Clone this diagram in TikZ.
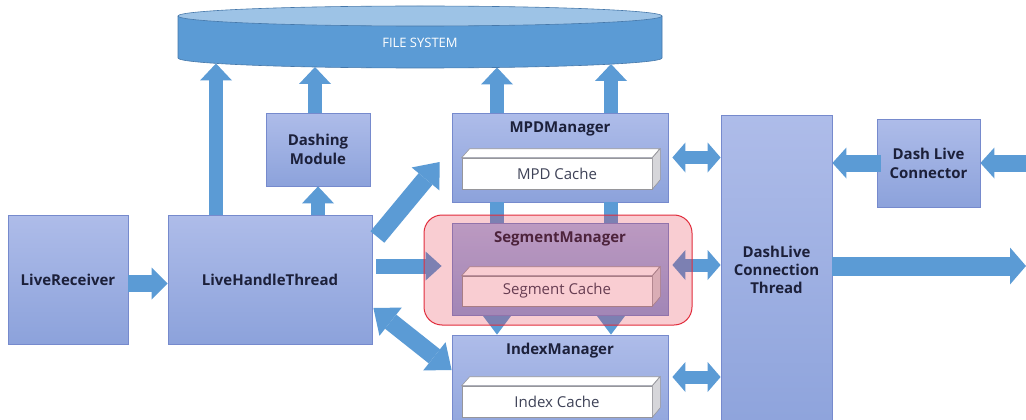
\documentclass[tikz,border=0pt]{standalone}
\usepackage{fontspec}
\setmainfont{Open Sans}
\usetikzlibrary{arrows.meta,calc}
\definecolor{boxtop}{RGB}{174,188,233}
\definecolor{boxbot}{RGB}{140,162,219}
\definecolor{boxline}{RGB}{118,138,205}
\definecolor{arr}{RGB}{91,155,213}
\definecolor{fsbody}{RGB}{91,155,213}
\definecolor{fstop}{RGB}{157,195,230}
\definecolor{fsline}{RGB}{70,120,170}
\definecolor{txt}{RGB}{28,32,58}
\definecolor{hlred}{RGB}{233,46,67}
\definecolor{hlline}{RGB}{225,45,60}
\definecolor{cacheline}{RGB}{150,150,155}
\definecolor{cacheside}{RGB}{214,214,218}
\tikzset{
  box/.style={draw=boxline, line width=0.8pt, top color=boxtop, bottom color=boxbot,
    inner sep=0pt, text=txt, font=\fontsize{15}{19}\selectfont\bfseries, align=center},
  titletext/.style={text=txt, font=\fontsize{15}{17}\selectfont\bfseries, inner sep=0pt},
  boxtext/.style={text=txt, font=\fontsize{15}{18}\selectfont\bfseries, inner sep=0pt, align=center},
  cache/.style={draw=cacheline, fill=white, line width=0.6pt, minimum width=190pt,
    minimum height=31pt, inner sep=0pt, text=txt!85, font=\fontsize{15}{17}\selectfont},
  ctop/.style={fill=white, draw=cacheline, line width=0.6pt},
  cside/.style={fill=cacheside, draw=cacheline, line width=0.6pt},
  uparr/.style={draw=arr, line width=14pt, -{Triangle[width=32pt,length=17pt,line width=0pt]}},
  downarr/.style={draw=arr, line width=14pt, -{Triangle[width=30pt,length=20pt,line width=0pt]}},
  harr/.style={draw=arr, line width=17pt, -{Triangle[width=32pt,length=16pt,line width=0pt]}},
  diagarr/.style={draw=arr, line width=18pt, -{Triangle[width=36pt,length=22pt,line width=0pt]}},
  diagdbl/.style={draw=arr, line width=18pt, {Triangle[width=36pt,length=22pt,line width=0pt]}-{Triangle[width=36pt,length=22pt,line width=0pt]}},
  segarr/.style={draw=arr, line width=15pt, -{Triangle[width=29pt,length=16pt,line width=0pt]}},
  dblarr/.style={draw=arr, line width=13pt, {Triangle[width=30pt,length=13pt,line width=0pt]}-{Triangle[width=30pt,length=13pt,line width=0pt]}},
  bigarr/.style={draw=arr, line width=19pt, -{Triangle[width=37pt,length=16pt,line width=0pt]}},
  conarr/.style={draw=arr, line width=17pt, -{Triangle[width=31pt,length=14pt,line width=0pt]}},
}
\begin{document}
\begin{tikzpicture}[x=1pt,y=-1pt]
\useasboundingbox (0,0) rectangle (1026,420);
\clip (0,0) rectangle (1026,420);
\fill[white] (0,0) rectangle (1026,420);

% file system cylinder
\path[fill=fsbody, draw=fsline, line width=0.6pt] (178,16) -- (178,58)
  arc[start angle=180, end angle=0, x radius=242, y radius=10] -- (662,16);
\path[fill=fstop, draw=fsline, line width=0.6pt] (420,16) ellipse[x radius=242, y radius=10];
\node[text=white, font=\fontsize{13}{15}\selectfont, inner sep=0pt] (fs) at (420,43) {FILE SYSTEM};
\coordinate (fs1) at (216,63.5);
\coordinate (fs2) at (315,67);
\coordinate (fs3) at (497,67.5);
\coordinate (fs4) at (611,64);

% boxes
\node[box, minimum width=120pt, minimum height=129pt] (lr) at (68,279.5) {LiveReceiver};
\node[box, minimum width=204pt, minimum height=129pt] (lht) at (270,279.5) {LiveHandleThread};
\node[box, minimum width=104pt, minimum height=73pt] (dm) at (318,149.5) {Dashing\\Module};

\node[box, minimum width=216pt, minimum height=89pt] (mpd) at (560,157.5) {};
\node[titletext] (mpdt) at (560,129) {MPDManager};
\node[cache] (mpdc) at (557,173.5) {MPD Cache};
\path[ctop] (mpdc.north west) -- ++(8,-9) -- ++(190,0) -- (mpdc.north east) -- cycle;
\path[cside] (mpdc.north east) -- ++(8,-9) -- ++(0,31) -- (mpdc.south east) -- cycle;

\node[box, minimum width=216pt, minimum height=110pt] (idx) at (560,390) {};
\node[titletext] (idxt) at (560,351) {IndexManager};
\node[cache] (idxc) at (557,401.5) {Index Cache};
\path[ctop] (idxc.north west) -- ++(8,-9) -- ++(190,0) -- (idxc.north east) -- cycle;
\path[cside] (idxc.north east) -- ++(8,-9) -- ++(0,31) -- (idxc.south east) -- cycle;

\node[box, minimum width=111pt, minimum height=330pt] (dlct) at (776.5,280) {};
\node[boxtext] (dlctt) at (776.5,269.5) {DashLive\\Connection\\Thread};
\node[box, minimum width=103pt, minimum height=88pt] (dlc) at (928.5,163) {Dash Live\\Connector};

% arrows to file system
\draw[uparr] (lht.north -| fs1) -- (fs1);
\draw[uparr] (dm.north -| fs2) -- (fs2);
\draw[uparr] (lht.north -| dm.south) -- (dm.south);
\draw[uparr] (mpd.north -| fs3) -- (fs3);
\draw[uparr] (mpd.north -| fs4) -- (fs4);

% MPD -> Index (behind segment manager)
\draw[downarr] (mpd.south -| fs3) -- (idx.north -| fs3);
\draw[downarr] (mpd.south -| fs4) -- (idx.north -| fs4);

% segment manager
\node[box, minimum width=216pt, minimum height=92pt] (seg) at (560,269) {};
\node[titletext] (segt) at (560,239) {SegmentManager};
\node[cache, minimum height=30pt] (segc) at (557,291) {Segment Cache};
\path[ctop] (segc.north west) -- ++(8,-9) -- ++(190,0) -- (segc.north east) -- cycle;
\path[cside] (segc.north east) -- ++(8,-9) -- ++(0,30) -- (segc.south east) -- cycle;

% other arrows
\draw[harr] ([yshift=-4pt]lr.east) -- ([yshift=-4pt]lht.west);
\draw[diagarr] ([xshift=5pt,yshift=42.5pt]lht.east) -- ([xshift=-12pt,yshift=-4.5pt]mpd.west);
\draw[segarr] ([xshift=4pt,yshift=13.5pt]lht.east) -- ([xshift=-10pt,yshift=3pt]seg.west);
\draw[diagdbl] ([xshift=1pt,yshift=-28.5pt]lht.east) -- ([yshift=20pt]idx.west);

\coordinate (ma) at ([xshift=4pt]mpd.east);
\coordinate (sa) at ([xshift=4pt,yshift=4pt]seg.east);
\coordinate (ia) at ([xshift=4pt,yshift=13pt]idx.east);
\draw[dblarr] (ma) -- (ma -| dlct.west);
\draw[dblarr] (sa) -- (sa -| dlct.west);
\draw[dblarr] (ia) -- (ia -| dlct.west);

\coordinate (out) at (1026,266);
\draw[bigarr] (dlct.east |- out) -- (out);
\draw[conarr] ([xshift=4pt]dlc.west) -- (dlc.west -| dlct.east);
\coordinate (ext) at (1030,163);
\draw[conarr] (ext) -- (dlc.east);

% segment highlight overlay
\node[draw=hlline, fill=hlred, fill opacity=0.24, line width=1pt, rounded corners=18pt,
  minimum width=268pt, minimum height=110pt, inner sep=0pt] (seghl) at (558,270) {};
\end{tikzpicture}
\end{document}
